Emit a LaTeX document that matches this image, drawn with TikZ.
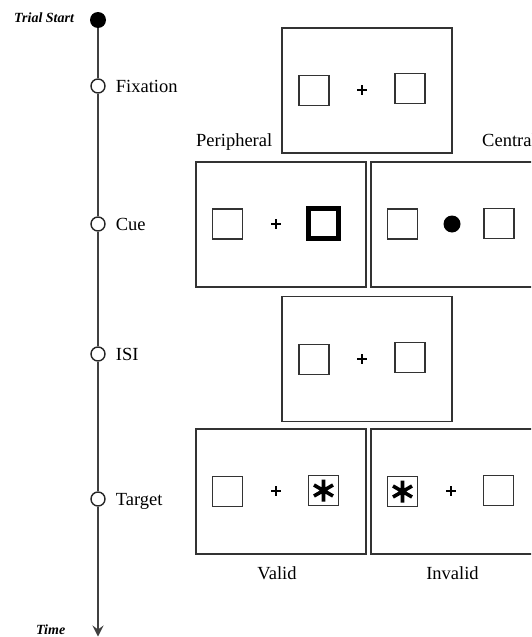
\documentclass[tikz,border=0pt]{standalone}
\usepackage{fontspec}
\setmainfont{Liberation Serif}
\usetikzlibrary{arrows.meta}
\begin{document}
\begin{tikzpicture}[x=1pt,y=-1pt,
  screen/.style={draw=black!80, line width=1.6pt, minimum width=170pt, minimum height=125pt, inner sep=0pt},
  placeholder/.style={draw=black!80, line width=1.2pt, minimum size=30pt, inner sep=0pt},
  cuedbox/.style={draw=black, line width=5pt, minimum size=30pt, inner sep=0pt},
  plusmark/.style={minimum size=10pt, inner sep=0pt, path picture={
      \draw[line width=1.9pt] (path picture bounding box.north) -- (path picture bounding box.south)
                              (path picture bounding box.west) -- (path picture bounding box.east);}},
  starmark/.style={minimum size=24pt, inner sep=0pt, path picture={
      \draw[line width=3.6pt] (path picture bounding box.center) ++(90:11pt) -- ++(270:22pt)
        (path picture bounding box.center) ++(30:11pt) -- ++(210:22pt)
        (path picture bounding box.center) ++(150:11pt) -- ++(330:22pt);}},
  centraldot/.style={circle, fill=black, minimum size=17pt, inner sep=0pt},
  startdot/.style={circle, fill=black, minimum size=16pt, inner sep=0pt},
  eventdot/.style={circle, draw=black!85, fill=white, line width=1.4pt, minimum size=14pt, inner sep=0pt},
  timeline/.style={draw=black!75, line width=1.5pt},
  eventlabel/.style={font=\fontsize{18.5}{20}\selectfont, inner sep=0pt, anchor=base west},
  condlabel/.style={font=\fontsize{18.5}{20}\selectfont, inner sep=0pt},
  axislabel/.style={font=\fontsize{14}{16}\selectfont\bfseries\itshape, inner sep=0pt, anchor=base west}
]
\useasboundingbox (0,0) rectangle (531,637);
\clip (0,0) rectangle (531,637);

% ---------- timeline ----------
\node[startdot] (start) at (98,20) {};
\node[eventdot] (fix) at (98,86) {};
\node[eventdot] (cue) at (98,224) {};
\node[eventdot] (isi) at (98,354) {};
\node[eventdot] (tgt) at (98,499) {};
\coordinate (tend) at (98,636.5);
\draw[timeline] (start) -- (fix);
\draw[timeline] (fix) -- (cue);
\draw[timeline] (cue) -- (isi);
\draw[timeline] (isi) -- (tgt);
\draw[timeline, -{Stealth[length=11pt, width=11pt, inset=4pt]}] (tgt) -- (tend);

\node[axislabel] (trialstart) at (14,22) {Trial Start};
\node[axislabel] (timelbl) at (36,634) {Time};

\node[eventlabel] (fixlbl) at ([xshift=10pt, yshift=-6pt]fix.east) {Fixation};
\node[eventlabel] (cuelbl) at ([xshift=10pt, yshift=-6pt]cue.east) {Cue};
\node[eventlabel] (isilbl) at ([xshift=10pt, yshift=-6pt]isi.east) {ISI};
\node[eventlabel] (tgtlbl) at ([xshift=10pt, yshift=-6pt]tgt.east) {Target};

% ---------- fixation ----------
\node[screen] (fixscr) at (367,90.5) {};
\node[placeholder] (fixL) at (314,90.5) {};
\node[plusmark] (fixP) at (362,90) {};
\node[placeholder] (fixR) at (410,88.5) {};

% ---------- cue ----------
\node[condlabel, anchor=base west] (perlbl) at (196,146) {Peripheral};
\node[condlabel, anchor=base west] (cenlbl) at (482,146) {Central};

\node[screen] (perscr) at (281,224.5) {};
\node[placeholder] (perL) at (227.5,224) {};
\node[plusmark] (perP) at (276,224) {};
\node[cuedbox] (perR) at (323.5,223) {};

\node[screen] (censcr) at (456,224.5) {};
\node[placeholder] (cenL) at (402.5,224) {};
\node[centraldot] (cenD) at (452,224) {};
\node[placeholder] (cenR) at (499,223.5) {};

% ---------- ISI ----------
\node[screen] (isiscr) at (367,359) {};
\node[placeholder] (isiL) at (314,359.5) {};
\node[plusmark] (isiP) at (362,359) {};
\node[placeholder] (isiR) at (410,357.5) {};

% ---------- target ----------
\node[screen] (valscr) at (281,491.5) {};
\node[placeholder] (valL) at (227.5,491.5) {};
\node[plusmark] (valP) at (276,491) {};
\node[placeholder] (valR) at (323.5,490.5) {};
\node[starmark] (valS) at (323.5,490.5) {};

\node[screen] (invscr) at (456,491.5) {};
\node[placeholder] (invL) at (402.5,491.5) {};
\node[starmark] (invS) at (402.5,491.5) {};
\node[plusmark] (invP) at (451,491) {};
\node[placeholder] (invR) at (498.5,490.5) {};

\node[condlabel, anchor=base] (vallbl) at (277,579) {Valid};
\node[condlabel, anchor=base] (invlbl) at (452.5,579) {Invalid};
\end{tikzpicture}
\end{document}
